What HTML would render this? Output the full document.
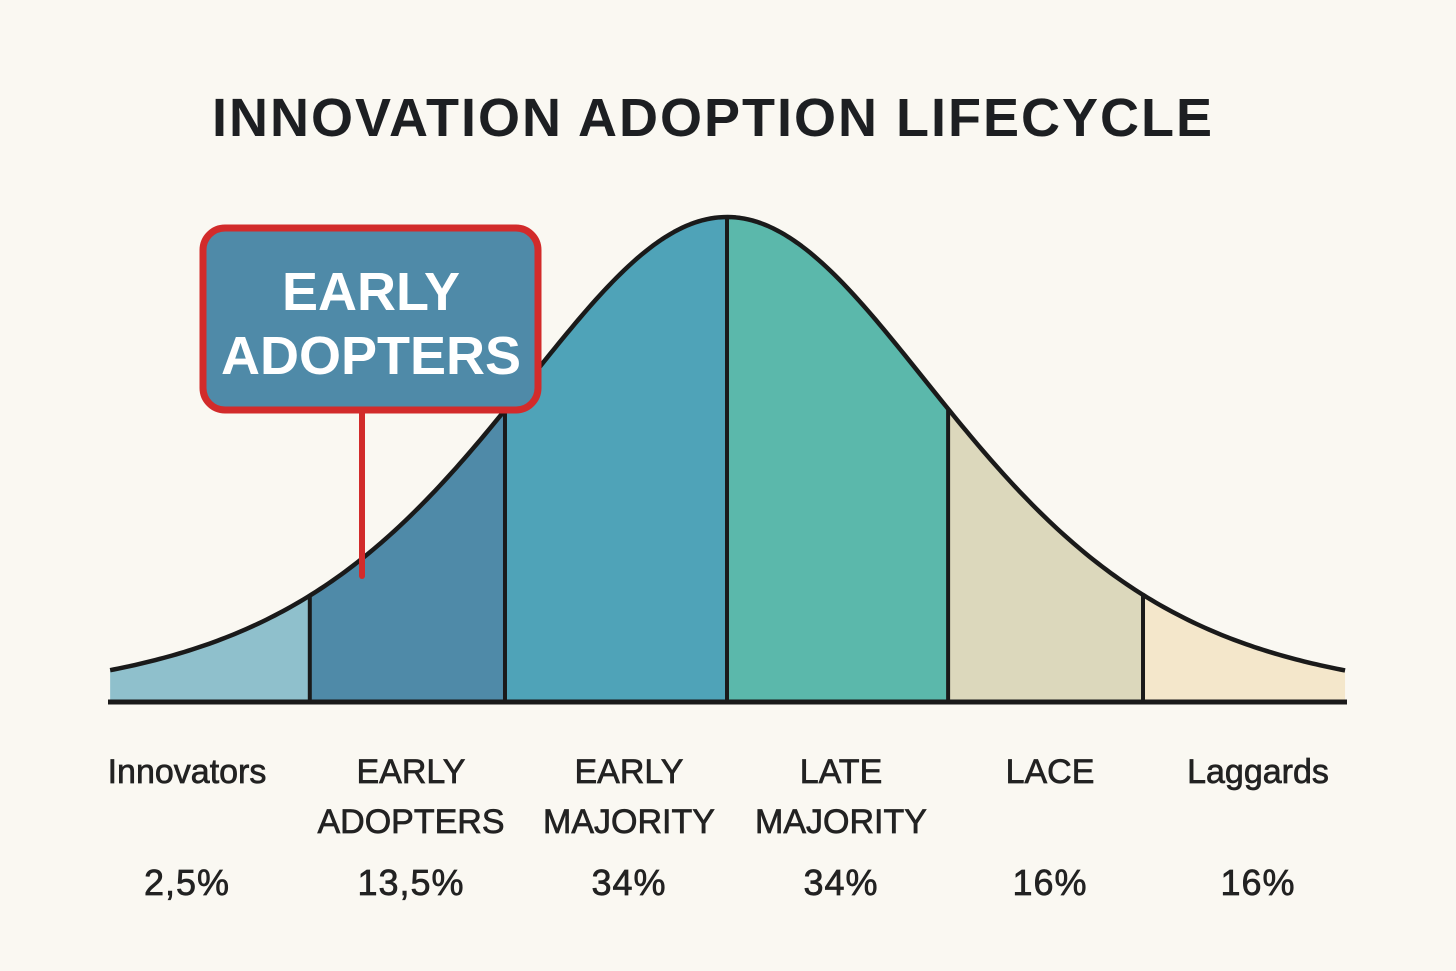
<!DOCTYPE html>
<html><head><meta charset="utf-8"><style>
html,body{margin:0;padding:0;background:#faf8f2;}
svg{display:block;font-family:"Liberation Sans","DejaVu Sans",sans-serif;}
</style></head><body>
<svg id="chart" width="1456" height="971" viewBox="0 0 1456 971">
<rect width="1456" height="971" fill="#faf8f2"/>
<text x="713" y="136" text-anchor="middle" font-size="54" font-weight="bold" fill="#1d1f22" letter-spacing="2">INNOVATION ADOPTION LIFECYCLE</text>
<g id="segs"></g>
<g id="labels"></g>
</svg>
<script>
const categories = ["Innovators", "EARLY|ADOPTERS", "EARLY|MAJORITY", "LATE|MAJORITY", "LACE", "Laggards"];
const percentLabels = ["2,5%", "13,5%", "34%", "34%", "16%", "16%"];
const boundaries = [-2.07, -1.40, -0.745, 0, 0.742, 1.396, 2.074];
const colors = ["#8fc0cc", "#4f8aa8", "#4fa3b8", "#5bb8ab", "#dcd8bc", "#f4e7cb"];

const NS = "http://www.w3.org/2000/svg";
const cx = 727, unit = 298, baseY = 700, peakH = 483;
const xs = v => cx + v * unit;
const h = v => peakH / Math.pow(Math.cosh(v), 2);
const ys = v => baseY - h(v);
const segs = document.getElementById("segs");
const labels = document.getElementById("labels");

function mk(tag, attrs, parent) {
  const e = document.createElementNS(NS, tag);
  for (const k in attrs) e.setAttribute(k, attrs[k]);
  parent.appendChild(e);
  return e;
}

for (let i = 0; i < categories.length; i++) {
  const a = boundaries[i], b = boundaries[i + 1];
  let d = `M${xs(a)},${baseY} L${xs(a)},${ys(a)}`;
  for (let k = 1; k <= 60; k++) { const v = a + (b - a) * k / 60; d += ` L${xs(v)},${ys(v)}`; }
  d += ` L${xs(b)},${baseY} Z`;
  const p = mk("path", {d: d, fill: colors[i]}, segs);
  
  
}
for (let i = 1; i < boundaries.length - 1; i++) {
  const v = boundaries[i];
  const l = mk("line", {x1: xs(v), y1: ys(v), x2: xs(v), y2: baseY, stroke: "#1a1a1a", "stroke-width": 4}, segs);
  
  
}
let cd = "";
const v0 = boundaries[0], v1 = boundaries[boundaries.length - 1];
for (let k = 0; k <= 300; k++) { const v = v0 + (v1 - v0) * k / 300; cd += (k ? " L" : "M") + xs(v) + "," + ys(v); }
const curve = mk("path", {d: cd, fill: "none", stroke: "#1a1a1a", "stroke-width": 4.5, "stroke-linejoin": "round"}, segs);


const axis = mk("line", {x1: 108, y1: 702, x2: 1347, y2: 702, stroke: "#1a1a1a", "stroke-width": 5}, segs);



const labelCenters = [187, 411, 629, 841, 1050, 1258];
for (let i = 0; i < categories.length; i++) {
  const parts = categories[i].split("|");
  parts.forEach((t, j) => {
    const tx = mk("text", {x: labelCenters[i], y: 783 + j * 50, "text-anchor": "middle", "font-size": 34, fill: "#222", stroke: "#222", "stroke-width": 0.7}, labels);
    tx.textContent = t;
    
    
  });
  const pt = mk("text", {x: labelCenters[i], y: 895, "text-anchor": "middle", "font-size": 36, fill: "#222", stroke: "#222", "stroke-width": 0.7, "letter-spacing": 1}, labels);
  pt.textContent = percentLabels[i];
  
  
}

const call = mk("g", {}, labels);


const pin = mk("line", {x1: 362, y1: 410, x2: 362, y2: 576, stroke: "#d22b2b", "stroke-width": 6, "stroke-linecap": "round"}, call);


const box = mk("rect", {x: 203, y: 228, width: 335, height: 182, rx: 22, fill: "#4f8aa8", stroke: "#d22b2b", "stroke-width": 7}, call);


["EARLY", "ADOPTERS"].forEach((t, j) => {
  const tx = mk("text", {x: 371, y: 310 + j * 64, "text-anchor": "middle", "font-size": 54, "font-weight": "bold", fill: "#fff"}, call);
  tx.textContent = t;
  
  
});
</script>
</body></html>
